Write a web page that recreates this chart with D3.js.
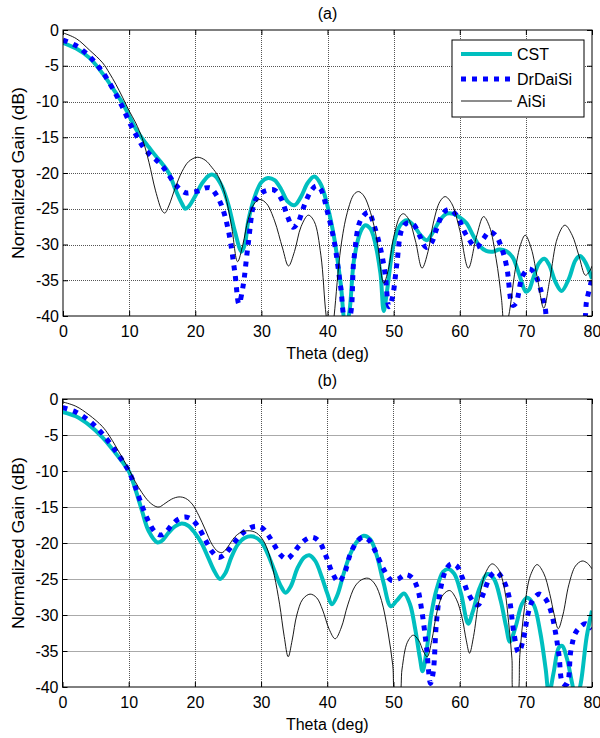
<!DOCTYPE html>
<html><head><meta charset="utf-8">
<script src="https://cdn.jsdelivr.net/npm/d3@7"></script>
<style>body{margin:0;background:#fff} svg{display:block} text{font-family:"Liberation Sans",Arial,sans-serif;fill:#000}</style>
</head><body>
<svg id="c" width="600" height="738"></svg>
<script>
const xTicks=[0,10,20,30,40,50,60,70,80];
const yTicks=[0,-5,-10,-15,-20,-25,-30,-35,-40];
const seriesNames=["CST","DrDaiSi","AiSi"];
const panelTitles=["(a)","(b)"];
const xLabel="Theta (deg)", yLabel="Normalized Gain (dB)";

// Panel (a)
const cstA=[[0,-1.8],[2,-2.6],[4,-3.9],[6,-6.1],[8,-8.8],[9,-10.2],[10,-12.0],[11,-13.8],[12,-15.2],[13,-16.4],[14,-17.6],[15,-18.7],[16,-20.0],[17,-22.3],[18,-24.3],[18.5,-25.0],[19,-24.7],[20,-23.2],[21,-21.5],[22,-20.4],[22.5,-20.2],[23,-20.4],[24,-21.8],[25,-24.4],[26,-28.2],[27,-31.0],[27.5,-30.0],[28,-26.8],[29,-23.3],[30,-21.3],[31,-20.7],[32,-21.0],[33,-22.3],[34,-24.0],[35,-24.5],[36,-23.3],[37,-21.4],[38,-20.5],[39,-21.6],[40,-24.6],[41,-29.0],[42,-35.5],[42.7,-41],[43.2,-40],[44,-32.2],[45,-28.2],[45.7,-27.3],[46.5,-27.8],[47,-29.0],[48,-34.0],[48.5,-39.3],[49,-36.5],[50,-30.0],[51,-27.3],[52,-26.6],[53,-27.3],[54,-28.6],[55,-29.4],[56,-28.2],[57,-26.6],[58,-25.7],[59,-25.7],[60,-26.2],[61,-27.0],[62,-28.7],[63,-30.2],[64,-30.9],[65,-31.0],[66,-30.7],[67,-30.9],[68,-31.8],[69,-34.2],[70,-36.6],[70.5,-36.3],[71,-35.0],[72,-32.6],[72.8,-32.0],[73.5,-32.8],[74.5,-35.3],[75.4,-36.5],[76.5,-34.8],[77.5,-32.2],[78.2,-31.6],[79,-32.5],[80,-34.8]];
const drdaisiA=[[0,-1.4],[2,-2.2],[4,-3.7],[6,-5.9],[8,-9.0],[9,-10.8],[10,-12.8],[11,-14.6],[12,-16.2],[13,-17.3],[14,-18.1],[15,-19.0],[16,-20.3],[17,-21.6],[18,-22.5],[18.7,-22.8],[19.5,-22.7],[20.5,-22.5],[21.5,-22.1],[22.3,-22.1],[23,-22.8],[24,-24.6],[25,-28.0],[26,-34.0],[26.6,-38.3],[27.2,-36.0],[28,-30.0],[29,-24.0],[30,-22.8],[31,-22.4],[32,-22.4],[33,-23.6],[34,-26.2],[34.8,-27.6],[35.5,-27.0],[36.5,-24.5],[37.5,-22.5],[38.3,-21.8],[39,-22.3],[40,-25.5],[41,-29.5],[42,-36.0],[42.7,-40.5],[43.3,-40.2],[44,-32.0],[45,-26.6],[46.2,-25.5],[47,-27.2],[48,-30.5],[48.7,-34.0],[49.3,-38.7],[49.8,-37.5],[50.5,-32.6],[51.2,-28.0],[52,-27.0],[53,-27.2],[54,-28.9],[54.9,-30.4],[55.7,-29.8],[56.5,-27.8],[57.5,-25.6],[58.3,-25.1],[59.5,-25.9],[61,-28.7],[62.5,-30.4],[63.5,-29.3],[64.5,-28.2],[65.5,-28.8],[66.3,-30.4],[67.1,-33.1],[68,-38.5],[68.5,-38.2],[69.5,-34.4],[70.5,-33.4],[71.3,-34.0],[72.1,-35.9],[72.9,-38.8],[73.5,-41],[78.5,-41],[79.2,-37.8],[80,-34.8]];
const aisiA=[[0,-0.4],[2,-1.2],[4,-2.8],[6,-4.6],[7,-6.0],[8,-7.6],[9,-9.4],[10,-11.3],[11,-13.0],[12,-15.2],[13,-18.5],[14,-22.5],[15,-25.3],[15.4,-25.6],[16,-24.6],[17,-22.0],[18,-19.8],[19,-18.4],[20.3,-17.8],[21.5,-18.2],[22.5,-19.2],[23.5,-20.5],[24.5,-23.0],[25.5,-27.5],[26.4,-32.4],[27.2,-30.0],[28,-26.5],[29,-24.2],[29.8,-23.7],[30.8,-24.3],[32,-26.7],[33.2,-30.5],[34.1,-33.0],[35,-31.0],[36,-27.5],[37.1,-25.9],[38,-26.8],[39,-31.5],[39.8,-40],[40.5,-44],[41,-40],[42,-30.5],[43,-25.5],[44,-23.0],[44.7,-22.6],[45.5,-23.2],[46.5,-25.5],[47.5,-29.5],[48.5,-35.4],[49.2,-33.5],[50,-29.0],[51,-26.0],[51.5,-25.7],[52.3,-26.5],[53.3,-29.5],[54.3,-33.3],[55.2,-31.0],[56,-27.0],[57,-24.0],[57.8,-23.3],[58.8,-24.3],[60,-28.0],[61.3,-33.3],[62.5,-29.0],[63.6,-26.1],[64.5,-27.5],[65.5,-32.0],[66.3,-37.5],[66.8,-42],[67.4,-40],[68.4,-33.5],[69.2,-30.0],[69.9,-28.7],[70.8,-30.5],[71.8,-35.0],[72.7,-38.9],[73.6,-35.0],[74.8,-29.0],[75.9,-27.3],[77,-28.7],[78,-31.5],[79,-34.3],[79.6,-33.8],[80,-33.0]];

// Panel (b)
const cstB=[[0,-1.8],[2,-2.4],[4,-3.6],[6,-5.3],[8,-7.5],[9,-8.7],[10,-10.0],[11,-12.5],[12,-15.5],[13,-18.3],[14.3,-19.9],[15,-19.7],[16,-18.6],[17,-17.7],[18,-17.3],[19,-17.6],[20,-18.6],[21,-20.0],[22,-22.0],[23,-24.0],[23.8,-25.0],[24.6,-24.2],[25.5,-22.0],[26.5,-20.2],[27.5,-19.3],[28.8,-19.1],[30,-19.8],[31,-21.5],[32,-23.8],[33,-26.0],[33.7,-26.9],[34.5,-26.0],[35.5,-23.5],[36.5,-22.0],[37.3,-21.7],[38.2,-22.5],[39.2,-24.8],[40,-27.0],[40.7,-28.5],[41.5,-27.3],[42.5,-24.2],[43.5,-21.5],[44.5,-19.8],[45.5,-19.0],[46.5,-19.5],[47.5,-21.8],[48.5,-25.5],[49.6,-28.8],[50.5,-28.0],[51.6,-27.0],[52.5,-28.5],[53.3,-32.0],[54,-36.0],[54.4,-37.8],[55,-35.0],[55.7,-30.0],[56.5,-26.5],[57.5,-24.0],[58.3,-23.6],[59.2,-24.3],[60.2,-27.0],[61.3,-31.2],[62,-29.5],[63,-26.3],[64.2,-24.3],[65.2,-25.0],[66.2,-28.0],[67,-31.5],[67.6,-33.7],[68.5,-31.5],[69.4,-28.5],[70.2,-27.6],[71.2,-28.6],[72.2,-32.5],[73,-37.5],[73.5,-41],[74.2,-38.0],[75,-34.5],[75.5,-34.3],[76.2,-36.0],[77,-39.5],[77.6,-42],[78.3,-39.5],[79.2,-33.0],[80,-29.4]];
const drdaisiB=[[0,-1.2],[2,-1.8],[4,-3.0],[6,-4.8],[8,-7.2],[9,-8.5],[10,-10.0],[11,-12.2],[12,-14.8],[13,-17.0],[14,-18.5],[14.8,-18.9],[15.5,-18.6],[16.5,-17.5],[17.5,-16.7],[18.6,-16.4],[19.6,-16.8],[20.6,-17.9],[21.6,-19.6],[22.6,-21.2],[23.6,-22.0],[24.5,-21.6],[25.5,-20.5],[26.6,-19.2],[27.8,-18.2],[29,-17.7],[30,-17.8],[31,-18.8],[32,-20.3],[33,-21.7],[33.9,-22.2],[34.8,-21.5],[35.8,-20.3],[36.8,-19.5],[37.8,-19.2],[38.8,-19.8],[39.8,-21.8],[40.8,-24.2],[41.7,-25.4],[42.6,-24.2],[43.5,-21.5],[44.5,-19.8],[45.4,-19.2],[46.3,-19.6],[47.3,-21.2],[48.5,-23.6],[49.7,-25.2],[50.7,-25.0],[51.8,-24.4],[52.8,-24.8],[53.6,-26.2],[54.3,-29.5],[55,-34.5],[55.6,-39.5],[56,-38.0],[56.5,-31.0],[57.2,-26.0],[58,-23.6],[58.7,-22.9],[59.6,-23.2],[60.4,-24.8],[61.2,-26.8],[62.2,-28.3],[62.8,-28.6],[63.6,-27.0],[64.6,-24.7],[65.5,-24.0],[66.5,-25.0],[67.4,-27.2],[68.2,-32.5],[68.9,-35.2],[69.6,-33.5],[70.3,-30.0],[71,-28.0],[72,-27.1],[73,-27.8],[73.8,-29.5],[74.5,-32.5],[75,-35.5],[75.6,-39.5],[76.2,-39.6],[76.8,-35.0],[77.5,-32.5],[78.3,-31.6],[79,-31.2],[80,-31.9]];
const aisiB=[[0,-0.4],[2,-1.0],[4,-2.2],[6,-3.8],[7,-5.0],[8,-6.5],[9,-8.1],[10,-9.7],[11,-11.5],[12,-13.0],[13,-14.2],[14,-14.9],[14.6,-15.0],[15.5,-14.5],[16.5,-13.9],[17.6,-13.6],[18.6,-13.8],[19.6,-14.6],[20.6,-16.2],[21.6,-18.2],[22.6,-20.2],[23.5,-21.2],[24.2,-21.3],[25,-20.5],[26,-19.2],[27,-18.5],[28.2,-18.3],[29.3,-18.6],[30.3,-19.6],[31.2,-21.5],[32,-24.5],[32.8,-28.5],[33.5,-33.0],[34.1,-35.8],[34.7,-33.5],[35.4,-30.0],[36.3,-27.8],[37.4,-27.1],[38.4,-27.6],[39.3,-29.3],[40.3,-32.0],[41.2,-33.3],[42.1,-31.8],[43.1,-28.6],[44.2,-26.0],[45.2,-25.1],[46.2,-24.9],[47.2,-25.7],[48.2,-28.0],[49.2,-32.5],[49.9,-37.0],[50.3,-41],[50.9,-41],[51.3,-37.5],[52.1,-33.8],[53,-32.8],[53.8,-33.5],[54.5,-35.0],[55.1,-35.8],[55.8,-33.5],[56.6,-29.5],[57.5,-27.2],[58.5,-26.6],[59.5,-27.8],[60.4,-30.5],[61,-33.5],[61.5,-35.3],[62.1,-33.0],[62.9,-28.0],[63.9,-24.2],[64.9,-22.9],[65.9,-23.7],[66.8,-26.5],[67.4,-31.0],[67.9,-36.0],[68.2,-41],[68.7,-41],[69.1,-35.5],[69.8,-29.0],[70.7,-24.5],[71.7,-23.0],[72.7,-24.2],[73.6,-27.0],[74.3,-30.0],[74.9,-31.9],[75.6,-30.0],[76.5,-25.8],[77.5,-23.2],[78.5,-22.5],[79.3,-22.8],[80,-23.6]];

const styles=[{color:"#00bfbf",width:4,dash:null},{color:"#0000ff",width:5,dash:"5,6"},{color:"#000000",width:0.9,dash:null}];
const panels=[
  {left:63,right:592,top:30,bottom:316,data:[cstA,drdaisiA,aisiA],titleY:19,xlabY:359,legend:true},
  {left:62.5,right:592,top:399,bottom:687,data:[cstB,drdaisiB,aisiB],titleY:386,xlabY:730,legend:false}
];

const svg=d3.select("#c");
panels.forEach((p,pi)=>{
  const x=d3.scaleLinear().domain([0,80]).range([p.left,p.right]);
  const y=d3.scaleLinear().domain([-40,0]).range([p.bottom,p.top]);
  const g=svg.append("g");
  const cid="clip"+pi;
  svg.append("clipPath").attr("id",cid).append("rect")
    .attr("x",p.left).attr("y",p.top).attr("width",p.right-p.left).attr("height",p.bottom-p.top);
  // grid
  const grid=g.append("g").attr("stroke","#555").attr("stroke-width",1).attr("stroke-dasharray","1,1");
  xTicks.slice(1,-1).forEach(t=>grid.append("line").attr("x1",Math.round(x(t))+0.5).attr("x2",Math.round(x(t))+0.5).attr("y1",p.top).attr("y2",p.bottom));
  yTicks.slice(1,-1).forEach(t=>grid.append("line").attr("y1",Math.round(y(t))+0.5).attr("y2",Math.round(y(t))+0.5).attr("x1",p.left).attr("x2",p.right));
  // lines
  const line=d3.line().x(d=>x(d[0])).y(d=>y(d[1])).curve(d3.curveCatmullRom.alpha(0.5));
  const lg=g.append("g").attr("clip-path",`url(#${cid})`);
  p.data.forEach((s,si)=>{
    const st=styles[si];
    lg.append("path").datum(s).attr("d",line).attr("fill","none")
      .attr("stroke",st.color).attr("stroke-width",st.width)
      .attr("stroke-dasharray",st.dash).attr("stroke-linejoin","round");
  });
  // axes (ticks inside)
  const fmt=d=>String(d);
  const ax=g.append("g").attr("transform",`translate(0,${p.bottom})`)
    .call(d3.axisBottom(x).tickValues(xTicks).tickSize(-5).tickSizeOuter(0).tickPadding(10).tickFormat(fmt));
  const axT=g.append("g").attr("transform",`translate(0,${p.top})`)
    .call(d3.axisTop(x).tickValues(xTicks).tickSize(-5).tickSizeOuter(0).tickFormat(""));
  const ay=g.append("g").attr("transform",`translate(${p.left},0)`)
    .call(d3.axisLeft(y).tickValues(yTicks).tickSize(-5).tickSizeOuter(0).tickPadding(4).tickFormat(fmt));
  const ayR=g.append("g").attr("transform",`translate(${p.right},0)`)
    .call(d3.axisRight(y).tickValues(yTicks).tickSize(-5).tickSizeOuter(0).tickFormat(""));
  [ax,axT,ay,ayR].forEach(a=>{
    a.selectAll("text").style("font-size","16px").attr("fill","#000").style("font-family",'"Liberation Sans",Arial,sans-serif');
    a.selectAll("line").attr("stroke","#000");
    a.select(".domain").remove();
  });
  g.append("rect").attr("x",p.left).attr("y",p.top).attr("width",p.right-p.left).attr("height",p.bottom-p.top)
    .attr("fill","none").attr("stroke","#000").attr("stroke-width",1);
  // labels
  g.append("text").attr("x",(p.left+p.right)/2).attr("y",p.titleY).attr("text-anchor","middle")
    .style("font-size","16px").text(panelTitles[pi]);
  g.append("text").attr("x",(p.left+p.right)/2).attr("y",p.xlabY).attr("text-anchor","middle")
    .style("font-size","16px").text(xLabel);
  g.append("text").attr("transform",`translate(24,${(p.top+p.bottom)/2}) scale(1,1.12) rotate(-90)`)
    .attr("text-anchor","middle").style("font-size","16px").text(yLabel);
  // legend
  if(p.legend){
    const L=g.append("g");
    L.append("rect").attr("x",452).attr("y",40).attr("width",132).attr("height",77)
      .attr("fill","#fff").attr("stroke","#000").attr("stroke-width",1);
    const ys=[54,79,101];
    seriesNames.forEach((n,i)=>{
      const st=styles[i];
      L.append("line").attr("x1",461).attr("x2",512).attr("y1",ys[i]).attr("y2",ys[i])
        .attr("stroke",st.color).attr("stroke-width",st.width).attr("stroke-dasharray",st.dash);
      L.append("text").attr("x",517).attr("y",ys[i]+6).style("font-size","16px").text(n);
    });
  }
});
</script>
</body></html>
